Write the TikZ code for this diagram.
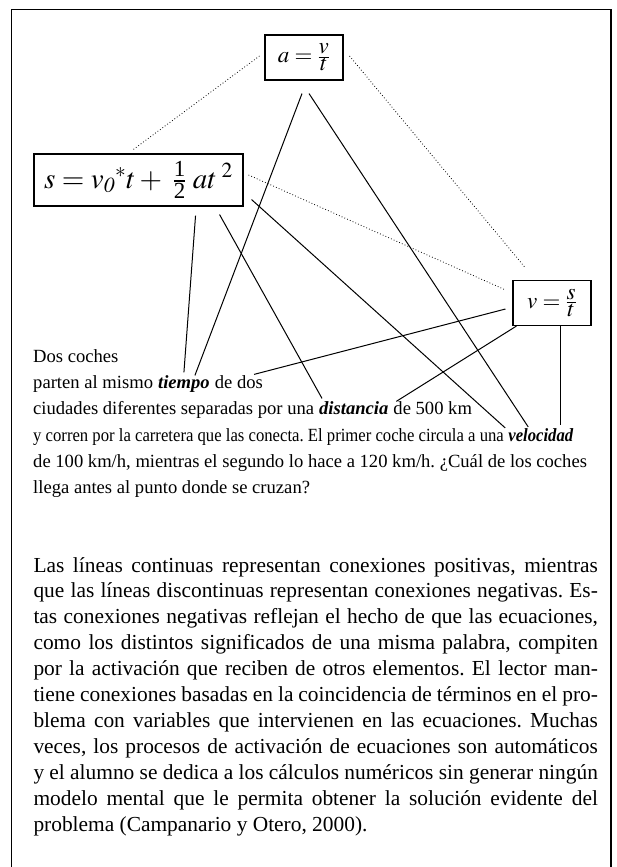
\documentclass[tikz,border=0pt]{standalone}
\usepackage{amsmath}
\usepackage{mathptmx}
\usepackage[no-math]{fontspec}
\setmainfont{Liberation Serif}
\usepackage{graphicx}
\usetikzlibrary{positioning}
\frenchspacing
\newcommand{\squeezed}[1]{\scalebox{0.897}[1]{#1}}
\newcommand{\fullline}[1]{\makebox[564.4pt][s]{#1}}
\newcommand{\fracdigit}[1]{\text{\fontsize{23}{23}\selectfont #1}}
\tikzstyle{eq_box} = [
    draw=black,
    line width=1.1pt,
    inner sep=0pt,
    minimum width=78pt,
    minimum height=45pt,
    font=\fontsize{23}{26}\selectfont
]
\tikzstyle{big_eq_box} = [
    eq_box,
    minimum width=209pt,
    minimum height=52pt,
    font=\fontsize{29}{32}\selectfont
]
\tikzstyle{line_text} = [
    inner sep=0pt,
    anchor=base west,
    font=\fontsize{18.6}{26}\selectfont
]
\tikzstyle{key_word} = [
    line_text,
    font=\fontsize{18.6}{26}\selectfont\bfseries\itshape
]
\tikzstyle{para_line} = [
    inner sep=0pt,
    anchor=base west,
    font=\fontsize{21.4}{26}\selectfont
]
\tikzstyle{pos_link} = [line width=1pt]
\tikzstyle{neg_link} = [line width=0.8pt, dash pattern=on 0.8pt off 2.2pt]
\begin{document}
\begin{tikzpicture}[x=1pt, y=-1pt]
\useasboundingbox (0,0) rectangle (616,867);
% frame, open at the bottom
\draw [line width=1.2pt] (11.5,867) -- (11.5,9.5) -- (611,9.5) -- (611,867);

% equations
\node [eq_box] (accel) at (304,57.5) {$a=\frac{\textstyle v}{\textstyle t}$};
\node [big_eq_box] (space) at (138.5,180) {$s={v_{\mathit{0}}}^{*}t+\;\frac{\fracdigit{1}}{\fracdigit{2}}\;at^{\;2}$\hspace{10pt}};
\node [eq_box] (speed) at (552,303) {$v=\frac{\textstyle s}{\textstyle t}$};

% problem text, line by line
\node [line_text] (l1) at (33,362) {Dos coches};
\node [line_text] (l2a) at (33,388.5) {parten al mismo};
\node [key_word, base right=4.65pt of l2a] (tiempo) {tiempo};
\node [line_text, base right=4.65pt of tiempo] (l2b) {de dos};
\node [line_text] (l3a) at (33,414.5) {ciudades diferentes separadas por una};
\node [key_word, base right=4.65pt of l3a] (distancia) {distancia};
\node [line_text, base right=4.65pt of distancia] (l3b) {de 500 km};
\node [line_text] (l4a) at (33,441) {\squeezed{y corren por la carretera que las conecta. El primer coche circula a una}};
\node [key_word, base right=4.2pt of l4a] (velocidad) {\squeezed{velocidad}};
\node [line_text] (l5) at (33,467) {de 100 km/h, mientras el segundo lo hace a 120 km/h. ¿Cuál de los coches};
\node [line_text] (l6) at (33,493) {llega antes al punto donde se cruzan?};

% positive links
\draw [pos_link] ([xshift=-2pt,yshift=-13pt]accel.south) -- ([xshift=11pt]tiempo.north);
\draw [pos_link] ([xshift=5pt,yshift=-13pt]accel.south) -- ([xshift=20pt,yshift=1pt]velocidad.north west);
\draw [pos_link] ([xshift=-48pt,yshift=-9pt]space.south east) -- ([yshift=3pt]tiempo.north);
\draw [pos_link] ([xshift=-24pt,yshift=-8pt]space.south east) -- ([xshift=3pt,yshift=3pt]distancia.north west);
\draw [pos_link] ([xshift=8pt,yshift=7pt]space.south east) -- ([xshift=-3pt]velocidad.north west);
\draw [pos_link] ([xshift=-7pt,yshift=-6pt]speed.west) -- ([xshift=-9pt,yshift=1pt]l2b.north east);
\draw [pos_link] ([xshift=4pt]speed.south west) -- ([xshift=3pt]l3b.north west);
\draw [pos_link] ([xshift=8pt]speed.south) -- ([xshift=8pt,yshift=3pt]speed.south |- velocidad.north);

% negative links
\draw [neg_link] ([xshift=-5pt,yshift=1.5pt]accel.west) -- ([xshift=-6.5pt,yshift=3pt]space.north);
\draw [neg_link] ([xshift=6pt,yshift=1.5pt]accel.east) -- ([xshift=13pt,yshift=12pt]speed.north west);
\draw [neg_link] ([xshift=5pt,yshift=5pt]space.east) -- ([xshift=-7pt,yshift=-10pt]speed.north west);

% explanation
\node [para_line] (p1) at (33.3,572) {\fullline{Las líneas continuas representan conexiones positivas, mientras}};
\node [para_line] (p2) at (33.3,597.9) {\fullline{que las líneas discontinuas representan conexiones negativas. Es-}};
\node [para_line] (p3) at (33.3,623.8) {\fullline{tas conexiones negativas reflejan el hecho de que las ecuaciones,}};
\node [para_line] (p4) at (33.3,649.7) {\fullline{como los distintos significados de una misma palabra, compiten}};
\node [para_line] (p5) at (33.3,675.6) {\fullline{por la activación que reciben de otros elementos. El lector man-}};
\node [para_line] (p6) at (33.3,701.5) {\fullline{tiene conexiones basadas en la coincidencia de términos en el pro-}};
\node [para_line] (p7) at (33.3,727.4) {\fullline{blema con variables que intervienen en las ecuaciones. Muchas}};
\node [para_line] (p8) at (33.3,753.3) {\fullline{veces, los procesos de activación de ecuaciones son automáticos}};
\node [para_line] (p9) at (33.3,779.2) {\fullline{y el alumno se dedica a los cálculos numéricos sin generar ningún}};
\node [para_line] (p10) at (33.3,805.1) {\fullline{modelo mental que le permita obtener la solución evidente del}};
\node [para_line] (p11) at (33.3,831) {problema (Campanario y Otero, 2000).};
\end{tikzpicture}
\end{document}
